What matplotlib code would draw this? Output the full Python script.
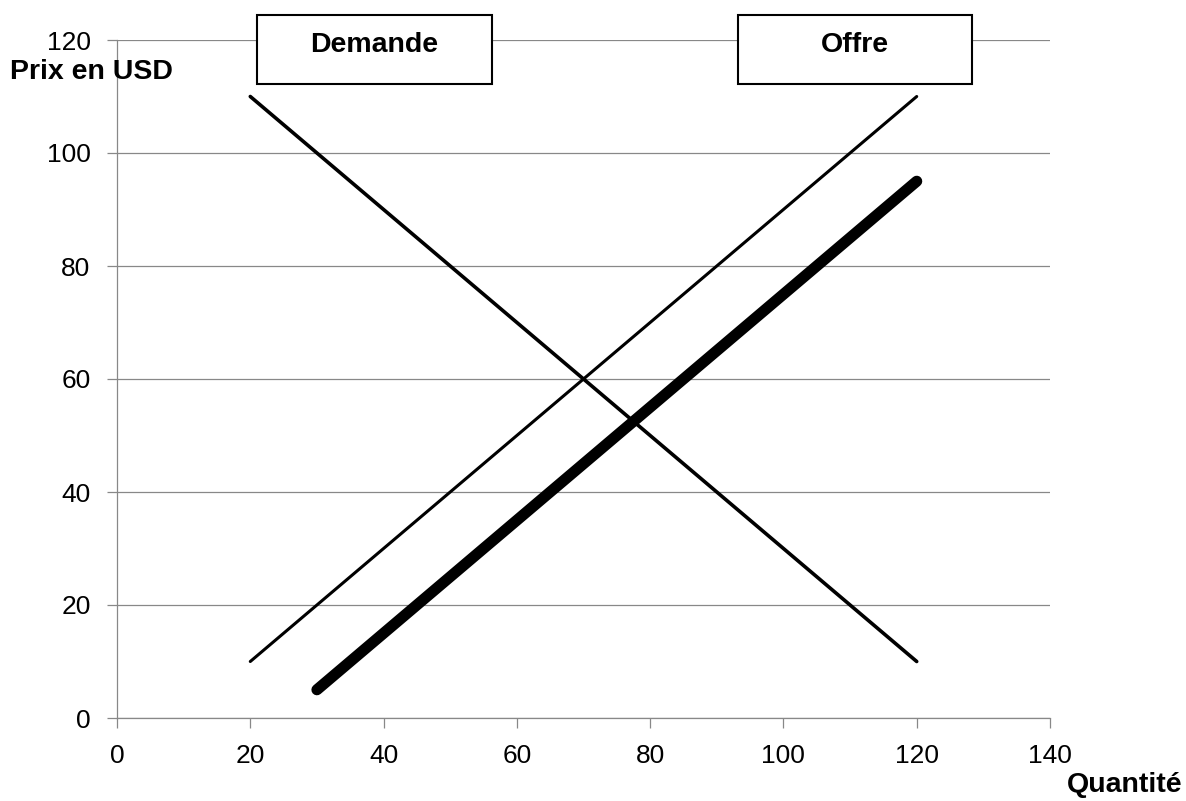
import matplotlib.pyplot as plt
from matplotlib.patches import Rectangle

plt.rcParams['font.family'] = ['Liberation Sans', 'DejaVu Sans']

# Demand, original supply and shifted supply (end points)
demande_x = [20, 120]
demande_y = [110, 10]
offre_x = [20, 120]
offre_y = [10, 110]
offre2_x = [30, 120]
offre2_y = [5, 95]

x_ticks = [0, 20, 40, 60, 80, 100, 120, 140]
y_ticks = [0, 20, 40, 60, 80, 100, 120]

fig = plt.figure(figsize=(11.86, 8.01), dpi=100)
ax = fig.add_axes([117 / 1186, 1 - 718 / 801, (1050 - 117) / 1186, (718 - 40) / 801])

ax.plot(demande_x, demande_y, color='black', linewidth=2.6, solid_capstyle='round')
ax.plot(offre_x, offre_y, color='black', linewidth=2.2, solid_capstyle='round')
ax.plot(offre2_x, offre2_y, color='black', linewidth=8, solid_capstyle='round')

ax.set_xlim(0, 140)
ax.set_ylim(0, 120)
ax.set_xticks(x_ticks)
ax.set_yticks(y_ticks)
ax.grid(axis='y', color='#888888', linewidth=0.9)
ax.set_axisbelow(True)
for side in ['top', 'right']:
    ax.spines[side].set_visible(False)
for side in ['left', 'bottom']:
    ax.spines[side].set_color('#888888')
    ax.spines[side].set_linewidth(0.9)
ax.tick_params(axis='both', colors='#888888', labelcolor='black', labelsize=19, length=7, width=0.9)
ax.tick_params(axis='x', pad=12)
ax.tick_params(axis='y', pad=12)

fig.text(10 / 1186, 1 - 72 / 801, 'Prix en USD', fontsize=20.5, fontweight='bold', va='center', ha='left')
fig.text(1183 / 1186, 1 - 785 / 801, 'Quantité', fontsize=20.5, fontweight='bold', va='center', ha='right')

# Label boxes above the curves
for label, x0, x1 in [('Demande', 257, 492), ('Offre', 738, 972)]:
    fig.patches.append(Rectangle((x0 / 1186, 1 - 84 / 801), (x1 - x0) / 1186, 69 / 801,
                                 transform=fig.transFigure, facecolor='white',
                                 edgecolor='black', linewidth=1.5, zorder=5))
    fig.text((x0 + x1) / 2 / 1186, 1 - 45 / 801, label, fontsize=20.5, fontweight='bold',
             ha='center', va='center', zorder=6)

fig.savefig('out.png', dpi=100)
